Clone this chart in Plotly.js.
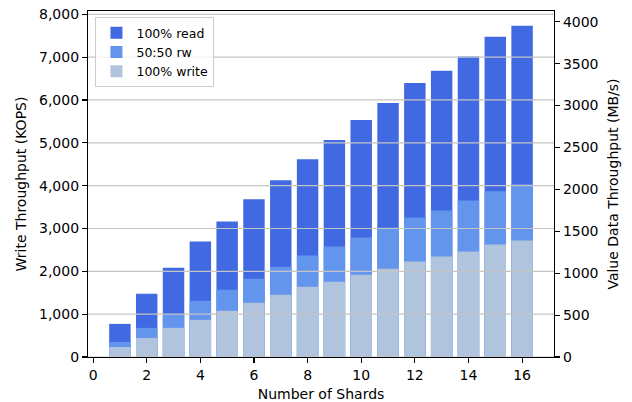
<!DOCTYPE html>
<html>
<head>
<meta charset="utf-8">
<script src="https://cdn.plot.ly/plotly-3.0.1.min.js"></script>
<style>html,body{margin:0;padding:0;background:#fff}#chart{width:632px;height:402px}</style>
</head>
<body>
<div id="chart"></div>
<script>
const shards = [1,2,3,4,5,6,7,8,9,10,11,12,13,14,15,16];
const readKops  = [773,1477,2086,2695,3164,3680,4125,4617,5063,5531,5930,6398,6680,7016,7477,7734];
const rwKops    = [352,680,1005,1313,1570,1828,2109,2367,2578,2789,3023,3258,3422,3656,3867,4031];
const writeKops = [234,445,680,867,1078,1266,1453,1641,1758,1922,2063,2227,2344,2461,2625,2719];
const seriesNames = ['100% read','50:50 rw','100% write'];
const leftTicks = [0,1000,2000,3000,4000,5000,6000,7000,8000];
const rightTicks = [0,500,1000,1500,2000,2500,3000,3500,4000];
const xTicks = [0,2,4,6,8,10,12,14,16];

const font = {family:'"DejaVu Sans", sans-serif', size:14, color:'#000'};
const colors = ['#4169E1','#6495ED','#B0C4DE'];
const series = [readKops, rwKops, writeKops];

const traces = series.map((vals,i)=>({
  type:'bar', x:shards, y:vals, name:seriesNames[i], width:0.8,
  marker:{color:colors[i], line:{width:0}}, hoverinfo:'skip'
}));
traces.push({type:'scatter', x:[null], y:[null], yaxis:'y2', showlegend:false, hoverinfo:'skip'});

const gridShapes = leftTicks.map(v=>({
  type:'line', xref:'paper', x0:0, x1:1, yref:'y', y0:v, y1:v,
  line:{color:'#c4c4c4', width:1.2}, layer:'above'
}));

const layout = {
  width:632, height:402,
  margin:{l:88, r:78, t:11, b:45, pad:0},
  paper_bgcolor:'#fff', plot_bgcolor:'#fff',
  font:font,
  barmode:'overlay',
  showlegend:true,
  legend:{x:0.016, y:0.982, xanchor:'left', yanchor:'top',
    bgcolor:'rgba(255,255,255,0.8)', bordercolor:'#cccccc', borderwidth:1,
    font:{family:'"DejaVu Sans", sans-serif', size:12.5, color:'#000'},
    tracegroupgap:0, traceorder:'normal'},
  xaxis:{range:[-0.19,17.19], tickvals:xTicks, ticks:'outside', ticklen:5, tickwidth:1.1, tickcolor:'#000',
    showline:true, linecolor:'#000', linewidth:1.1, mirror:true, showgrid:false, zeroline:false,
    title:{text:'Number of Shards', font:font, standoff:7}},
  yaxis:{range:[0,8077], tickvals:leftTicks, tickformat:',d', ticks:'outside', ticklen:5, tickwidth:1.1, tickcolor:'#000',
    showline:true, linecolor:'#000', linewidth:1.1, showgrid:false, zeroline:false,
    title:{text:'Write Throughput (KOPS)', font:font, standoff:9}},
  yaxis2:{range:[0,4128], tickvals:rightTicks, tickformat:'d', overlaying:'y', side:'right', ticks:'outside', ticklen:5, tickwidth:1.1, tickcolor:'#000',
    showline:true, linecolor:'#000', linewidth:1.1, showgrid:false, zeroline:false,
    title:{text:'Value Data Throughput (MB/s)', font:font, standoff:10}},
  shapes:gridShapes
};
Plotly.newPlot('chart', traces, layout, {displayModeBar:false, staticPlot:true});
</script>
</body>
</html>
